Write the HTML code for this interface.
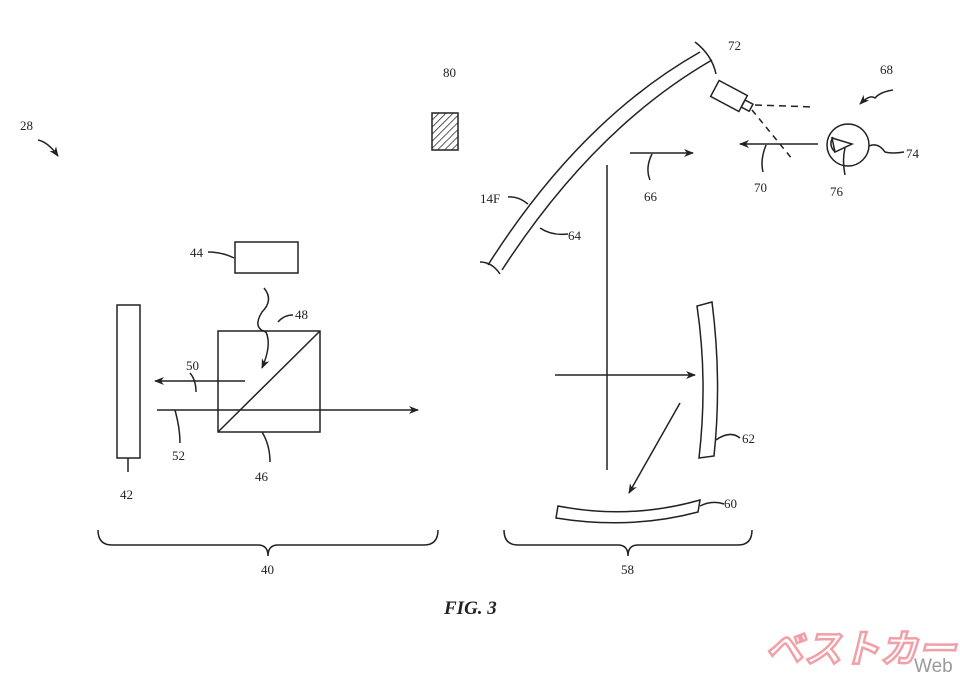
<!DOCTYPE html>
<html><head><style>body{margin:0;background:#fff}svg{display:block}text{font-family:"Liberation Serif",serif;font-size:13px;fill:#222}</style></head><body>
<svg width="960" height="678" viewBox="0 0 960 678" xmlns="http://www.w3.org/2000/svg">
<defs>
<marker id="a" markerWidth="10" markerHeight="8" refX="9" refY="4" orient="auto" markerUnits="userSpaceOnUse"><path d="M0,0 L10,4 L0,8 L3,4z" fill="#222"/></marker>
<pattern id="h" width="5" height="5" patternUnits="userSpaceOnUse" patternTransform="rotate(45)"><line x1="0" y1="0" x2="0" y2="5" stroke="#222" stroke-width="1.5"/></pattern>
</defs>
<g fill="none" stroke="#222" stroke-width="1.5">
<path d="M38,140 Q48,142 58,156" marker-end="url(#a)"/>
<rect x="432" y="113" width="26" height="37" fill="url(#h)"/>
<path d="M488,265 Q580,120 700,52"/>
<path d="M502,270 Q594,128 712,60"/>
<path d="M480,262 Q492,262 500,274"/>
<path d="M695,42 Q712,55 716,74"/>
<path d="M508,197 Q518,196 528,204"/>
<path d="M540,228 Q552,236 568,234"/>
<g transform="translate(729,96) rotate(28)"><rect x="-16" y="-9" width="32" height="18"/><rect x="16" y="-4" width="9" height="8"/></g>
<path d="M755,105 L815,107" stroke-dasharray="7,5"/>
<path d="M752,110 L793,160" stroke-dasharray="6,5"/>
<path d="M893,90 Q880,92 875,98 Q870,94 860,104" marker-end="url(#a)"/>
<circle cx="848" cy="145" r="21"/>
<path d="M832,138 L852,144 L835,152z"/>
<path d="M833,137 Q828,145 835,152"/>
<path d="M845,148 Q842,160 845,175"/>
<path d="M869,146 Q878,142 885,152 Q892,154 904,152"/>
<path d="M630,153 L693,153" marker-end="url(#a)"/>
<path d="M818,144 L740,144" marker-end="url(#a)"/>
<path d="M652,154 Q645,168 650,180"/>
<path d="M766,145 Q760,160 763,172"/>
<path d="M607,165 L607,470"/>
<path d="M555,375 L695,375" marker-end="url(#a)"/>
<path d="M680,403 L629,493" marker-end="url(#a)"/>
<path d="M697,306 Q708,380 699,458 L714,456 Q722,380 712,302z"/>
<path d="M716,440 Q730,430 740,438"/>
<path d="M558,506 Q630,520 700,500 L698,512 Q630,530 556,518z"/>
<path d="M700,506 Q712,500 724,504"/>
<rect x="235" y="242" width="63" height="31"/>
<path d="M208,252 Q222,252 234,258"/>
<rect x="218" y="331" width="102" height="101"/>
<path d="M218,432 L320,331"/>
<rect x="117" y="305" width="23" height="153"/>
<path d="M245,381 L155,381" marker-end="url(#a)"/>
<path d="M157,410 L418,410" marker-end="url(#a)"/>
<path d="M264,288 Q274,300 262,312 Q252,328 266,332 Q272,345 262,368" marker-end="url(#a)"/>
<path d="M293,315 Q284,315 278,322"/>
<path d="M190,373 Q196,380 196,392"/>
<path d="M180,443 Q180,428 175,410"/>
<path d="M270,462 Q270,445 262,432"/>
<path d="M128,472 Q128,466 128,458"/>
<path d="M98,530 Q98,545 112,545 L258,545 Q268,545 268,556 Q268,545 278,545 L424,545 Q438,545 438,530"/>
<path d="M504,530 Q504,545 518,545 L618,545 Q628,545 628,556 Q628,545 638,545 L738,545 Q752,545 752,530"/>
</g>
<text x="20" y="130">28</text>
<text x="443" y="77">80</text>
<text x="728" y="50">72</text>
<text x="880" y="74">68</text>
<text x="906" y="158">74</text>
<text x="830" y="196">76</text>
<text x="754" y="192">70</text>
<text x="644" y="201">66</text>
<text x="480" y="203">14F</text>
<text x="568" y="240">64</text>
<text x="190" y="257">44</text>
<text x="295" y="319">48</text>
<text x="186" y="370">50</text>
<text x="172" y="460">52</text>
<text x="255" y="481">46</text>
<text x="120" y="499">42</text>
<text x="742" y="443">62</text>
<text x="724" y="508">60</text>
<text x="261" y="574">40</text>
<text x="621" y="574">58</text>
<text x="444" y="614" style="font-size:19px;font-weight:bold;font-style:italic">FIG. 3</text>
<text x="765" y="662" style="font-family:'Noto Sans CJK JP',sans-serif;font-size:38px;font-weight:bold;font-style:italic;fill:#fff;stroke:#f2a0a8;stroke-width:2.5">ベストカー</text>
<text x="914" y="672" style="font-family:'Liberation Sans',sans-serif;font-size:19px;fill:#999">Web</text>
</svg>
</body></html>
